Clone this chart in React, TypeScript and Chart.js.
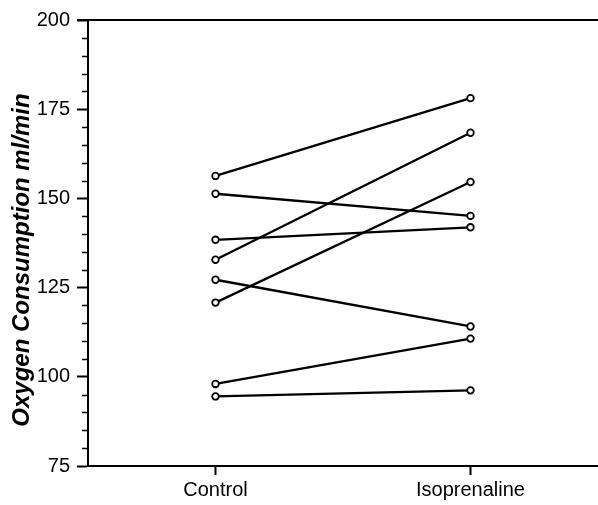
import React, { useEffect, useRef } from "react";
import { Chart, registerables } from "chart.js";

Chart.register(...registerables);

const categories = ["Control", "Isoprenaline"];
const controlValues = [156.3, 151.3, 138.4, 132.8, 127.2, 120.8, 98.0, 94.5];
const isoprenalineValues = [178.1, 145.1, 141.9, 168.4, 114.1, 154.6, 110.7, 96.2];
const yMin = 75;
const yMax = 200;
const yMajorStep = 25;
const yMinorStep = 5;
const yTitle = "Oxygen Consumption ml/min";

const FONT = "'Liberation Sans', Arial, Helvetica, sans-serif";

const framePlugin = {
  id: "frame",
  afterDraw(chart: any) {
    const { ctx, chartArea } = chart;
    const y = chart.scales.y;
    ctx.save();
    ctx.strokeStyle = "#000";
    ctx.lineWidth = 2;
    // top border
    ctx.beginPath();
    ctx.moveTo(chartArea.left - 11, chartArea.top);
    ctx.lineTo(chartArea.right, chartArea.top);
    ctx.stroke();
    // minor ticks
    ctx.lineWidth = 1.5;
    for (let v = yMin; v <= yMax; v += yMinorStep) {
      if (v % yMajorStep === 0) continue;
      const py = Math.round(y.getPixelForValue(v)) + 0.5;
      ctx.beginPath();
      ctx.moveTo(chartArea.left - 6, py);
      ctx.lineTo(chartArea.left, py);
      ctx.stroke();
    }
    // axis title
    ctx.translate(29, (chartArea.top + chartArea.bottom) / 2 + 17);
    ctx.rotate(-Math.PI / 2);
    ctx.fillStyle = "#000";
    ctx.font = "italic bold 24px " + FONT;
    ctx.textAlign = "center";
    ctx.textBaseline = "alphabetic";
    ctx.fillText(yTitle, 0, 0);
    ctx.restore();
  },
};

export default function App() {
  const ref = useRef<HTMLCanvasElement>(null);
  useEffect(() => {
    document.body.style.margin = "0";
    const datasets = controlValues.map((c, i) => ({
      label: "S" + (i + 1),
      data: [c, isoprenalineValues[i]],
      borderColor: "#000",
      borderWidth: 2.3,
      pointRadius: 3.3,
      pointBorderWidth: 1.8,
      pointBackgroundColor: "#fff",
      pointBorderColor: "#000",
      tension: 0,
    }));
    const chart = new Chart(ref.current!, {
      type: "line",
      data: { labels: categories, datasets },
      options: {
        animation: false,
        responsive: false,
        maintainAspectRatio: false,
        layout: { autoPadding: false, padding: { top: 20, right: 0, left: 0, bottom: 0 } },
        plugins: { legend: { display: false }, tooltip: { enabled: false } },
        scales: {
          x: {
            type: "category",
            offset: true,
            grid: {
              offset: false,
              drawOnChartArea: false,
              tickLength: 9,
              tickWidth: 2,
              tickColor: "#000",
            },
            border: { display: true, color: "#000", width: 2 },
            ticks: {
              color: "#000",
              font: { family: FONT, size: 20 },
              padding: 3,
              maxRotation: 0,
            },
            afterFit(scale: any) {
              scale.height = 39;
            },
          },
          y: {
            min: yMin,
            max: yMax,
            ticks: {
              stepSize: yMajorStep,
              color: "#000",
              font: { family: FONT, size: 20 },
              padding: 7,
            },
            grid: {
              drawOnChartArea: false,
              tickLength: 11,
              tickWidth: 2,
              tickColor: "#000",
            },
            border: { display: true, color: "#000", width: 2 },
            afterFit(scale: any) {
              scale.width = 88;
            },
          },
        },
      },
      plugins: [framePlugin],
    });
    return () => chart.destroy();
  }, []);
  return (
    <div style={{ width: 598, height: 505, background: "#fff" }}>
      <canvas ref={ref} width={598} height={505} style={{ display: "block" }} />
    </div>
  );
}
